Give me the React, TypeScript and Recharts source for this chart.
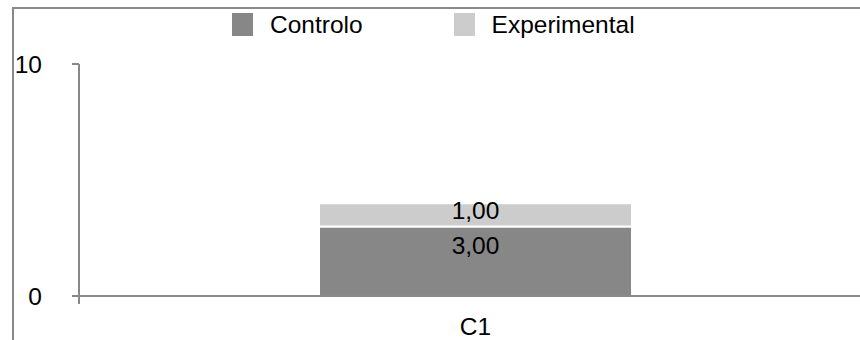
import React from 'react';
import { BarChart, Bar, XAxis, YAxis, Legend, LabelList } from 'recharts';

// Categories and series values
const categories = ['C1'];
const controloValues = [3];
const experimentalValues = [1];
const yTicks = [0, 10];
const seriesNames = ['Controlo', 'Experimental'];
const seriesColors = ['#878787', '#cccccc'];

const data = categories.map((name, i) => ({
  name,
  [seriesNames[0]]: controloValues[i],
  [seriesNames[1]]: experimentalValues[i],
}));

const FONT = '"Liberation Sans", Arial, Helvetica, sans-serif';
const FONT_SIZE = 24.5;
const AXIS_COLOR = '#898989';
const Y_TICK_SIZE = 7;
const Y_TICK_MARGIN = 30;
const EDGE_TICK = 8;

const fmt = (v: number) => v.toFixed(2).replace('.', ',');

const makeLabel = (offset: number) => (props: any) => {
  const { x, y, width, value } = props;
  return (
    <text
      x={Number(x) + Number(width) / 2}
      y={Number(y) + offset}
      textAnchor="middle"
      dominantBaseline="central"
      fontFamily={FONT}
      fontSize={FONT_SIZE}
      fill="#000"
    >
      {fmt(Number(value))}
    </text>
  );
};

// Y tick label; at the baseline it also draws the category-boundary tick
// that hangs below the x axis.
const YTick = (props: any) => {
  const { x, y, payload } = props;
  const axisX = Number(x) + Y_TICK_SIZE + Y_TICK_MARGIN;
  return (
    <g>
      <text
        x={x}
        y={y}
        textAnchor="end"
        dominantBaseline="central"
        fontFamily={FONT}
        fontSize={FONT_SIZE}
        fill="#000"
      >
        {payload.value}
      </text>
      {payload.value === 0 && (
        <line x1={axisX} y1={y} x2={axisX} y2={Number(y) + EDGE_TICK} stroke={AXIS_COLOR} strokeWidth={2} />
      )}
    </g>
  );
};

const LegendContent = (props: any) => {
  const { payload = [] } = props;
  return (
    <div style={{ display: 'flex', alignItems: 'center', fontFamily: FONT, fontSize: FONT_SIZE, color: '#000' }}>
      {payload.map((p: any, i: number) => (
        <div key={i} style={{ display: 'flex', alignItems: 'center', marginRight: i < payload.length - 1 ? 91 : 0 }}>
          <div style={{ width: 21, height: 23, background: p.color, marginRight: 17 }} />
          <span style={{ paddingTop: 2, whiteSpace: 'nowrap' }}>{p.value}</span>
        </div>
      ))}
    </div>
  );
};

export default function App() {
  return (
    <div style={{ position: 'relative', width: 860, height: 340, overflow: 'hidden', background: '#fff' }}>
      <style>{`body{margin:0}`}</style>
      <div
        style={{
          position: 'absolute',
          left: 12,
          top: 7,
          width: 900,
          height: 400,
          borderLeft: `2px solid ${AXIS_COLOR}`,
          borderTop: `2px solid ${AXIS_COLOR}`,
        }}
      />
      <div style={{ position: 'absolute', left: 0, top: 0 }}>
        <BarChart
          width={880}
          height={360}
          data={data}
          margin={{ top: 64, right: 8, bottom: 20, left: 0 }}
        >
          <XAxis
            dataKey="name"
            axisLine={{ stroke: AXIS_COLOR, strokeWidth: 2 }}
            tickLine={false}
            tickSize={0}
            tickMargin={22}
            height={44}
            tick={{ fontFamily: FONT, fontSize: FONT_SIZE, fill: '#000' }}
          />
          <YAxis
            domain={[0, 10]}
            ticks={yTicks}
            width={79}
            axisLine={{ stroke: AXIS_COLOR, strokeWidth: 2 }}
            tickLine={{ stroke: AXIS_COLOR, strokeWidth: 2 }}
            tickSize={Y_TICK_SIZE}
            tickMargin={Y_TICK_MARGIN}
            tick={<YTick />}
          />
          <Legend
            verticalAlign="middle"
            align="center"
            content={<LegendContent />}
            wrapperStyle={{ top: 9, left: 232, width: 'auto' }}
          />
          <Bar
            dataKey={seriesNames[0]}
            stackId="a"
            fill={seriesColors[0]}
            stroke="#fff"
            strokeWidth={2}
            barSize={313}
            isAnimationActive={false}
          >
            <LabelList dataKey={seriesNames[0]} content={makeLabel(19)} />
          </Bar>
          <Bar
            dataKey={seriesNames[1]}
            stackId="a"
            fill={seriesColors[1]}
            stroke="#fff"
            strokeWidth={2}
            barSize={313}
            isAnimationActive={false}
          >
            <LabelList dataKey={seriesNames[1]} content={makeLabel(7)} />
          </Bar>
        </BarChart>
      </div>
    </div>
  );
}
